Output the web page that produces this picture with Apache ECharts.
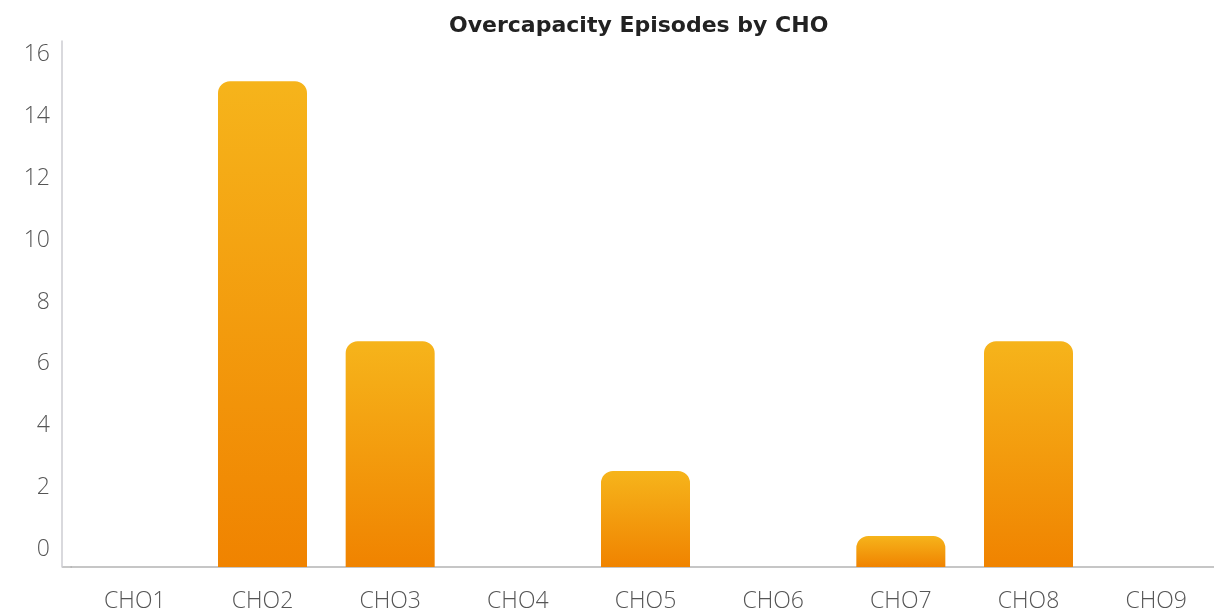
<!DOCTYPE html>
<html>
<head>
<meta charset="utf-8">
<title>Overcapacity Episodes by CHO</title>
<script src="https://cdn.jsdelivr.net/npm/echarts@6/dist/echarts.min.js"></script>
<style>
	html, body { margin: 0; padding: 0; background: #fff; }
	#main { width: 1214px; height: 615px; }
</style>
</head>
<body>
<div id="main"></div>
<script>
// 类别
var categories = ['CHO1', 'CHO2', 'CHO3', 'CHO4', 'CHO5', 'CHO6', 'CHO7', 'CHO8', 'CHO9'];
// 超容量次数
var episodes = [0, 15.7, 7.3, 0, 3.1, 0, 1.0, 7.3, 0];
// y轴刻度
var yMin = 0;
var yMax = 17;
var yStep = 2;

var labelFont = '"Open Sans", "DejaVu Sans", sans-serif';

var myChart = echarts.init(document.getElementById('main'));

var option = {
	backgroundColor: '#fff',
	title: {
		text: 'Overcapacity Episodes by CHO',
		left: 444,
		top: 10,
		textStyle: {
			fontFamily: '"DejaVu Sans", sans-serif',
			fontWeight: 'bold',
			fontSize: 22,
			color: '#222'
		}
	},
	grid: {
		left: 71,
		width: 1149,
		top: 41,
		bottom: 48,
		outerBoundsMode: 'none'
	},
	xAxis: {
		type: 'category',
		data: categories,
		axisLine: { lineStyle: { color: '#b4b4b4', width: 1.5 } },
		axisTick: { show: false },
		axisLabel: {
			margin: 23,
			fontFamily: labelFont,
			fontWeight: 300,
			fontSize: 23,
			color: '#555'
		}
	},
	yAxis: {
		type: 'value',
		min: yMin,
		max: yMax,
		interval: yStep,
		offset: 9,
		splitLine: { show: false },
		axisTick: { show: false },
		axisLine: { show: true, lineStyle: { color: '#cdcdd2', width: 1.5 } },
		axisLabel: {
			margin: 12,
			verticalAlign: 'bottom',
			padding: [0, 0, 6, 0],
			fontFamily: labelFont,
			fontWeight: 300,
			fontSize: 23,
			color: '#555',
			formatter: function (v) {
				return v % yStep === 0 ? v : '';
			}
		}
	},
	// 补齐x轴线左端
	graphic: [{
		type: 'line',
		shape: { x1: 62, y1: 567, x2: 72, y2: 567 },
		style: { stroke: '#b4b4b4', lineWidth: 1.5 }
	}],
	series: [{
		name: 'Episodes',
		type: 'bar',
		data: episodes,
		barWidth: 89,
		itemStyle: {
			borderRadius: [12, 12, 0, 0],
			color: new echarts.graphic.LinearGradient(0, 0, 0, 1, [
				{ offset: 0, color: '#f6b41b' },
				{ offset: 1, color: '#f08300' }
			])
		}
	}]
};

myChart.setOption(option);
window.onresize = myChart.resize;
</script>
</body>
</html>
